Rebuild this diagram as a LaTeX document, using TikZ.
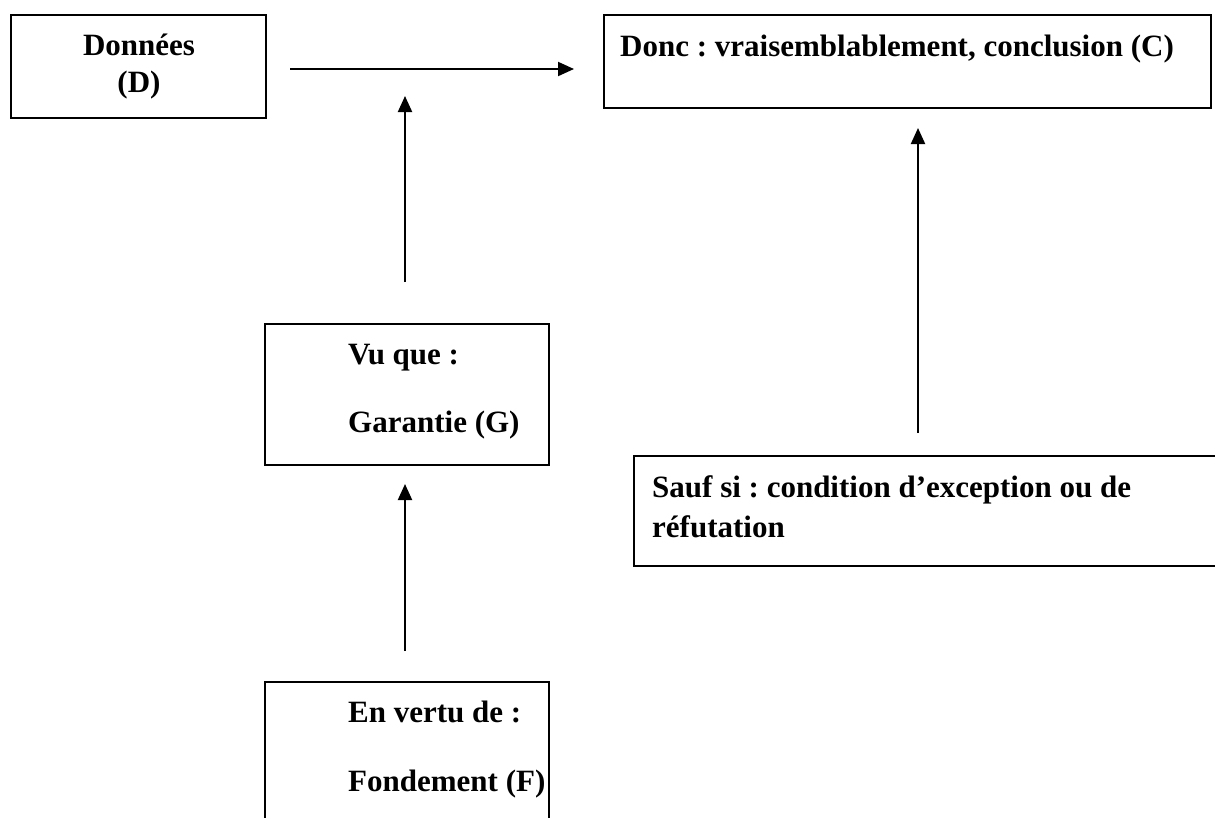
\documentclass[tikz,border=0pt]{standalone}
\usepackage{fontspec}
\setmainfont{Liberation Serif}
\usetikzlibrary{arrows.meta}
\begin{document}
\frenchspacing
\begin{tikzpicture}[x=1pt,y=-1pt,
  box/.style={draw, line width=1.7pt, rectangle, inner sep=0pt, anchor=north west},
  lbl/.style={inner sep=0pt, font=\bfseries\fontsize{31}{38}\selectfont},
  arr/.style={line width=2pt, -{Triangle[length=16pt,width=14pt]}}]
\useasboundingbox (0,0) rectangle (1215,817);
\clip (0,0) rectangle (1215,817);
% boxes
\node[box, minimum width=255pt, minimum height=103pt] (D) at (10,14) {};
\node[box, minimum width=607pt, minimum height=93pt] (C) at (603,14) {};
\node[box, minimum width=284pt, minimum height=141pt] (G) at (264,323) {};
\node[box, minimum width=284pt, minimum height=200pt] (F) at (264,681) {};
\node[box, minimum width=700pt, minimum height=110pt] (S) at (633,455) {};
% texts
\node[lbl, anchor=base] (Dt1) at (139,55) {Données};
\node[lbl, anchor=base] (Dt2) at (139,92) {(D)};
\node[lbl, anchor=base west] (Ct) at (620,56) {Donc : vraisemblablement, conclusion (C)};
\node[lbl, anchor=base west] (Gt1) at (348,364) {Vu que :};
\node[lbl, anchor=base west] (Gt2) at (348,432) {Garantie (G)};
\node[lbl, anchor=base west] (Ft1) at (348,722) {En vertu de :};
\node[lbl, anchor=base west] (Ft2) at (348,791) {Fondement (F)};
\node[lbl, anchor=base west] (St1) at (652,497) {Sauf si : condition d’exception ou de};
\node[lbl, anchor=base west] (St2) at (652,537) {réfutation};
% arrow end points
\coordinate (a1s) at (290,69);
\coordinate (a1e) at (574,69);
\coordinate (a2s) at (405,282);
\coordinate (a2e) at (405,96);
\coordinate (a3s) at (405,651);
\coordinate (a3e) at (405,484);
\coordinate (a4s) at (918,433);
\coordinate (a4e) at (918,128);
\draw[arr] (a1s) -- (a1e);
\draw[arr] (a2s) -- (a2e);
\draw[arr] (a3s) -- (a3e);
\draw[arr] (a4s) -- (a4e);
\end{tikzpicture}
\end{document}
